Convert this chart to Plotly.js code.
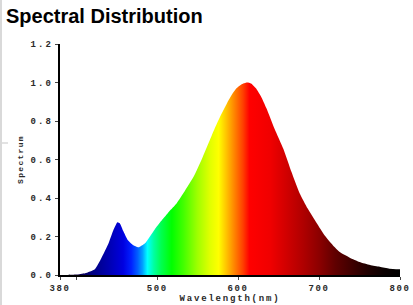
<!DOCTYPE html>
<html>
<head>
<meta charset="utf-8">
<script src="https://cdn.plot.ly/plotly-3.0.1.min.js"></script>
<style>
  html, body { margin: 0; padding: 0; background: #fff; }
  #chart { width: 413px; height: 305px; }
  .xtick text { letter-spacing: 1.6px; }
  .ytick text { letter-spacing: 2.2px; }
  .g-xtitle text { letter-spacing: 1.8px; }
  .g-ytitle text { letter-spacing: 1.3px; }
</style>
</head>
<body>
<div id="chart"></div>
<script>
// Wavelength (nm) and relative spectrum values
const wavelengths = [380, 390, 400, 411, 423, 431, 440, 446, 451, 454, 458, 464, 470, 477, 485, 497, 503, 510, 517, 524, 534, 545, 555, 565, 572, 578, 586, 592, 598, 604, 611, 616, 622, 628, 635, 645, 656, 666, 676, 686, 697, 707, 717, 726, 738, 750, 763, 775, 787, 800];
const spectrum    = [0, 0, 0.002, 0.009, 0.03, 0.087, 0.165, 0.234, 0.274, 0.268, 0.23, 0.18, 0.156, 0.144, 0.165, 0.237, 0.27, 0.305, 0.34, 0.372, 0.435, 0.51, 0.6, 0.70, 0.77, 0.825, 0.89, 0.935, 0.97, 0.99, 1.0, 0.995, 0.97, 0.93, 0.866, 0.76, 0.655, 0.535, 0.425, 0.345, 0.27, 0.205, 0.155, 0.118, 0.09, 0.068, 0.052, 0.043, 0.033, 0.03];

// Spectral colour stops (wavelength nm -> colour)
const colorWavelengths = [380, 400, 420, 440, 458, 468, 476, 482, 488, 496, 505, 518, 532, 550, 565, 576, 586, 596, 606, 614, 640, 660, 680, 700, 720, 740, 760, 780, 800];
const colorValues = ['#000000', '#100040', '#000080', '#0000b0', '#0000e0', '#0020ff', '#0060ff', '#00a0ff', '#00ffff', '#00ffa0', '#00ff50', '#00ff00', '#40ff00', '#a0ff00', '#e0ff00', '#ffff00', '#ffc000', '#ff8000', '#ff4000', '#ff0000', '#f00000', '#d00000', '#b00000', '#8c0000', '#600000', '#400000', '#200000', '#0a0000', '#000000'];

const xTickVals = [380, 400, 500, 600, 700, 800];
const xTickText = ['380', '', '500', '600', '700', '800'];
const yTickVals = [0, 0.2, 0.4, 0.6, 0.8, 1.0, 1.2];
const yTickText = ['0.0', '0.2', '0.4', '0.6', '0.8', '1.0', '1.2'];

const wlMin = 380, wlMax = 800;
const colorscale = colorWavelengths.map((w, i) => [(w - wlMin) / (wlMax - wlMin), colorValues[i]]);

const tickFont = { family: 'Liberation Mono, Courier New, monospace', size: 9, color: '#2a2a2a', weight: 'bold' };
const titleFontAx = { family: 'Liberation Mono, Courier New, monospace', size: 9, color: '#2a2a2a', weight: 'bold' };

const trace = {
  x: wavelengths,
  y: spectrum,
  type: 'scatter',
  mode: 'lines',
  line: { width: 0, shape: 'spline', smoothing: 0.5, color: 'rgba(0,0,0,0)' },
  fill: 'tozeroy',
  fillgradient: { type: 'horizontal', colorscale: colorscale, start: wlMin, stop: wlMax },
  hoverinfo: 'skip'
};

const layout = {
  width: 413,
  height: 305,
  margin: { l: 60, r: 13, t: 44, b: 30 },
  paper_bgcolor: '#ffffff',
  plot_bgcolor: '#ffffff',
  showlegend: false,
  title: {
    text: 'Spectral Distribution',
    font: { family: 'Liberation Sans, Arial, sans-serif', size: 20, color: '#000', weight: 'bold' },
    xref: 'container', x: 6 / 413, xanchor: 'left',
    yref: 'container', y: 1 - 16 / 305, yanchor: 'middle'
  },
  xaxis: {
    range: [wlMin, wlMax],
    showgrid: false, zeroline: false,
    showline: true, linecolor: '#000', linewidth: 2,
    ticks: 'outside', ticklen: 3, tickcolor: '#444', tickwidth: 1,
    tickmode: 'array', tickvals: xTickVals, ticktext: xTickText,
    tickfont: tickFont,
    title: { text: 'Wavelength(nm)', font: titleFontAx, standoff: 2 }
  },
  yaxis: {
    range: [0, 1.2],
    showgrid: false, zeroline: false,
    showline: true, linecolor: '#000', linewidth: 2,
    ticks: 'outside', ticklen: 3, tickcolor: '#444', tickwidth: 1,
    tickmode: 'array', tickvals: yTickVals, ticktext: yTickText,
    tickfont: tickFont,
    title: { text: 'Spectrum', font: { family: 'Liberation Mono, Courier New, monospace', size: 8, color: '#2a2a2a', weight: 'bold' }, standoff: 6 }
  },
  shapes: [
    { type: 'line', xref: 'paper', yref: 'paper', x0: -59 / 340, x1: -59 / 340, y0: 275 / 231, y1: -30 / 231, line: { color: '#d9d9d9', width: 2 } },
    { type: 'line', xref: 'paper', yref: 'paper', x0: -60 / 340, x1: -52 / 340, y0: (275 - 143) / 231, y1: (275 - 143) / 231, line: { color: '#d9d9d9', width: 1.5 } }
  ]
};

Plotly.newPlot('chart', [trace], layout, { displayModeBar: false, staticPlot: true });
</script>
</body>
</html>
